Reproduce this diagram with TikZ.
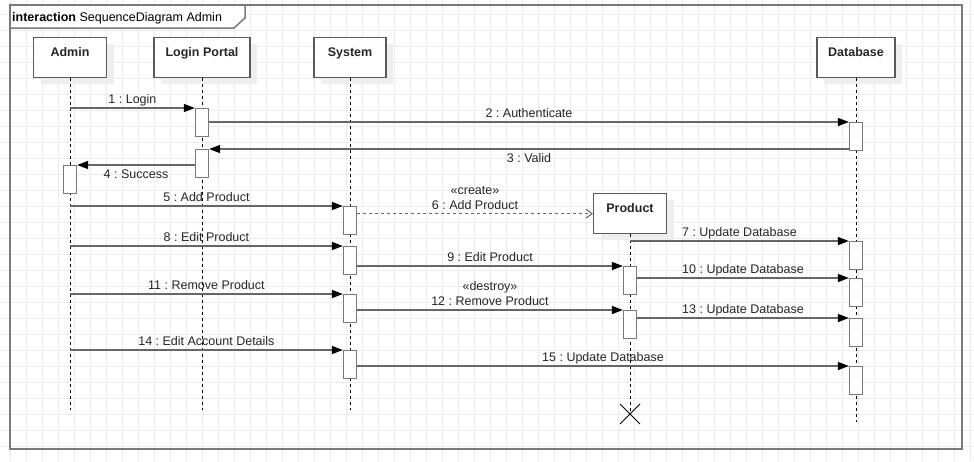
\documentclass[tikz,border=0pt]{standalone}
\usepackage{fontspec}
\setmainfont{Liberation Sans}
\usepackage{tikz}
\usetikzlibrary{arrows.meta,shadows}
\definecolor{gridgray}{HTML}{EBEBEB}
\definecolor{framegray}{HTML}{7A7A7A}
\definecolor{boxgray}{HTML}{5A5A5A}
\definecolor{linegray}{HTML}{666666}
\definecolor{shadegray}{HTML}{EEEEEE}
\frenchspacing

\begin{document}
\begin{tikzpicture}[x=1pt,y=-1pt,
    txt/.style={font=\fontsize{12.5}{15}\selectfont, text=black!85},
    gridline/.style={draw=gridgray, line width=1pt},
    head/.style={txt, font=\bfseries\fontsize{12.5}{15}\selectfont, draw=boxgray, line width=1.3pt, fill=white, anchor=north,
        minimum width=73pt, inner xsep=2pt, inner ysep=0pt, text height=18.5pt, text depth=21.5pt,
        drop shadow={shadow xshift=7pt, shadow yshift=-6pt, fill=shadegray, opacity=1}},
    act/.style={draw=framegray, fill=white, line width=1.3pt, anchor=north, minimum width=13pt, minimum height=28pt, inner sep=0pt},
    lifeline/.style={draw=black, line width=0.9pt, dash pattern=on 3pt off 3pt},
    msg/.style={draw=linegray, line width=1.3pt, -{Triangle[length=11pt,width=8pt,color=black]}},
    create/.style={draw=linegray, line width=1.3pt, dash pattern=on 3pt off 3pt, -{Straight Barb[length=6pt,width=9pt,line width=1pt]}},
    lbl/.style={txt, above=3pt, inner sep=1pt, text depth=0pt},
    lblbelow/.style={txt, below=3pt, inner sep=1pt, text height=9pt},
]
    \useasboundingbox (0,0) rectangle (974,461);
    \fill[white] (0,0) rectangle (974,461);

    % background grid
    \foreach \gx in {10.7,26.7,...,970.7} \draw[gridline] (\gx,0) -- (\gx,461);
    \foreach \gy in {14.3,30.3,...,461} \draw[gridline] (0,\gy) -- (974,\gy);

    % frame and its tab
    \draw[draw=framegray, line width=2pt] (10,5) rectangle (962,449);
    \draw[draw=framegray, line width=1.5pt, fill=white] (10,5) -- (245,5) -- (245,18) -- (234,28) -- (10,28) -- cycle;
    \node[txt, text=black, anchor=base west, inner sep=0pt] (title) at (12,21) {\textbf{interaction} SequenceDiagram Admin};

    % lifeline heads
    \node[head] (admin) at (70,37) {Admin};
    \node[head, minimum width=96pt] (login) at (202,37) {Login Portal};
    \node[head, minimum width=72pt] (system) at (350,37) {System};
    \node[head, minimum width=78pt] (db) at (856,37) {Database};
    \node[head] (product) at (630,193) {Product};

    % lifelines
    \coordinate (adminend) at (70,410);
    \coordinate (loginend) at (202,410);
    \coordinate (systemend) at (350,410);
    \coordinate (productend) at (630,414);
    \coordinate (dbend) at (856,422);
    \draw[lifeline] (admin.south) -- (adminend);
    \draw[lifeline] (login.south) -- (loginend);
    \draw[lifeline] (system.south) -- (systemend);
    \draw[lifeline] (product.south) -- (productend);
    \draw[lifeline] (db.south) -- (dbend);
    \draw[black, line width=0.8pt] (productend) ++(-10,-10) -- ++(20,20) (productend) ++(-10,10) -- ++(20,-20);

    % activations
    \node[act] (ad1) at (70,165) {};
    \node[act] (lp1) at (202,108) {};
    \node[act] (lp2) at (202,149) {};
    \node[act] (sy1) at (350,206) {};
    \node[act] (sy2) at (350,246) {};
    \node[act] (sy3) at (350,294) {};
    \node[act] (sy4) at (350,350) {};
    \node[act] (pr1) at (630,266) {};
    \node[act] (pr2) at (630,310) {};
    \node[act] (db1) at (856,122) {};
    \node[act] (db2) at (856,241) {};
    \node[act] (db3) at (856,278) {};
    \node[act] (db4) at (856,318) {};
    \node[act] (db5) at (856,366) {};

    % messages
    \draw[msg] (admin |- lp1.north) -- node[lbl]{1 : Login} (lp1.north west);
    \draw[msg] (lp1.east |- db1.north) -- node[lbl]{2 : Authenticate} (db1.north west);
    \draw[msg] (db1.west |- lp2.north) -- node[lblbelow]{3 : Valid} (lp2.north east);
    \draw[msg] (lp2.west |- ad1.north) -- node[lblbelow]{4 : Success} (ad1.north east);
    \draw[msg] (admin |- sy1.north) -- node[lbl]{5 : Add Product} (sy1.north west);
    \draw[create] (sy1.east |- product.west) -- node[lbl, align=center]{«create»\\6 : Add Product} (product.west);
    \draw[msg] (product.south |- db2.north) -- node[lbl]{7 : Update Database} (db2.north west);
    \draw[msg] (admin |- sy2.north) -- node[lbl]{8 : Edit Product} (sy2.north west);
    \draw[msg] (sy2.east |- pr1.north) -- node[lbl]{9 : Edit Product} (pr1.north west);
    \draw[msg] (pr1.east |- db3.north) -- node[lbl]{10 : Update Database} (db3.north west);
    \draw[msg] (admin |- sy3.north) -- node[lbl]{11 : Remove Product} (sy3.north west);
    \draw[msg] (sy3.east |- pr2.north) -- node[lbl, align=center]{«destroy»\\12 : Remove Product} (pr2.north west);
    \draw[msg] (pr2.east |- db4.north) -- node[lbl]{13 : Update Database} (db4.north west);
    \draw[msg] (admin |- sy4.north) -- node[lbl]{14 : Edit Account Details} (sy4.north west);
    \draw[msg] (sy4.east |- db5.north) -- node[lbl]{15 : Update Database} (db5.north west);
\end{tikzpicture}
\end{document}
